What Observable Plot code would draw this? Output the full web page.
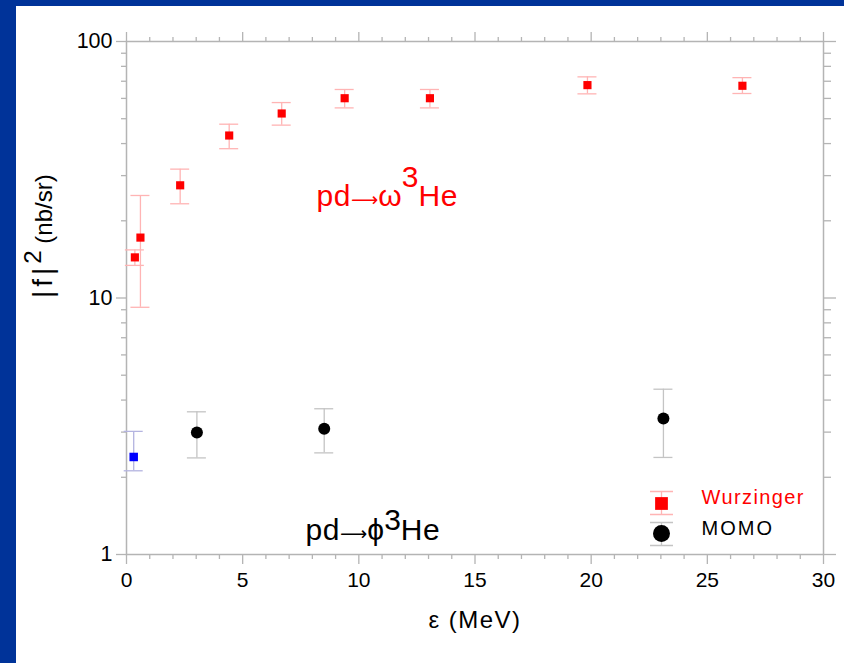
<!DOCTYPE html>
<html>
<head>
<meta charset="utf-8">
<script src="https://cdn.jsdelivr.net/npm/d3@7"></script>
<script src="https://cdn.jsdelivr.net/npm/@observablehq/plot@0.6"></script>
<style>
  html, body { margin: 0; padding: 0; width: 844px; height: 663px; overflow: hidden; background: #003399; }
  #panel { position: absolute; left: 16px; top: 6px; right: 0; bottom: 0; background: #ffffff; }
  #chart { position: absolute; left: 0; top: 0; }
</style>
</head>
<body>
<div id="panel"></div>
<div id="chart"></div>
<script>
// ---- data ----
const wurzX  = [0.36, 0.60, 2.31, 4.42, 6.68, 9.39, 13.06, 19.84, 26.51];
const wurzY  = [14.4, 17.2, 27.5, 43.0, 52.4, 60.1, 60.1, 67.6, 67.2];
const wurzLo = [13.4, 9.2, 23.3, 38.2, 47.2, 55.1, 55.1, 62.5, 62.7];
const wurzHi = [15.4, 25.1, 31.8, 47.6, 57.8, 65.0, 65.0, 72.8, 72.3];

const momoX  = [3.03, 8.51, 23.11];
const momoY  = [2.99, 3.09, 3.39];
const momoLo = [2.38, 2.49, 2.39];
const momoHi = [3.60, 3.70, 4.41];

const blueX  = [0.31];
const blueY  = [2.40];
const blueLo = [2.12];
const blueHi = [3.02];

const xMajor = [0, 5, 10, 15, 20, 25, 30];
const xMinor = d3.range(0, 31).filter(v => v % 5 !== 0);
const yMajor = [1, 10, 100];
const yMinor = [2,3,4,5,6,7,8,9,20,30,40,50,60,70,80,90];

const seriesNames = ["Wurzinger", "MOMO"];
const xLabel = "ε (MeV)";

// ---- tables ----
const toRows = (X, Y, Lo, Hi) => X.map((x, i) => ({x, y: Y[i], lo: Lo[i], hi: Hi[i]}));
const wurz = toRows(wurzX, wurzY, wurzLo, wurzHi);
const momo = toRows(momoX, momoY, momoLo, momoHi);
const blue = toRows(blueX, blueY, blueLo, blueHi);

const axisGrey = "#b4b4b4";
const font = "'Liberation Sans', Arial, Helvetica, sans-serif";

// I-beam symbol for legend error bars
const ibeam = (up, down, w) => ({
  draw(ctx) {
    ctx.moveTo(-w, -up); ctx.lineTo(w, -up);
    ctx.moveTo(0, -up); ctx.lineTo(0, down);
    ctx.moveTo(-w, down); ctx.lineTo(w, down);
  }
});

function errorMarks(rows, color) {
  return [
    Plot.ruleX(rows, {x: "x", y1: "lo", y2: "hi", stroke: color, strokeWidth: 1.3}),
    Plot.ruleY(rows, {y: "hi", x1: "x", x2: "x", insetLeft: -9.5, insetRight: -9.5, stroke: color, strokeWidth: 1.3}),
    Plot.ruleY(rows, {y: "lo", x1: "x", x2: "x", insetLeft: -9.5, insetRight: -9.5, stroke: color, strokeWidth: 1.3})
  ];
}

const svg = Plot.plot({
  width: 844,
  height: 663,
  marginLeft: 126,
  marginRight: 21,
  marginTop: 41,
  marginBottom: 109,
  style: {background: "transparent", fontFamily: font, color: "#000", overflow: "visible"},
  x: {domain: [0, 30]},
  y: {type: "log", domain: [1, 100]},
  marks: [
    Plot.frame({stroke: axisGrey, strokeWidth: 1.5}),
    // bottom axis
    Plot.axisX(xMajor, {anchor: "bottom", tickSize: 10, tickPadding: 8, fontSize: 21, stroke: axisGrey, strokeWidth: 1.3, fill: "#000", tickFormat: d => String(d), label: null}),
    Plot.axisX(xMinor, {anchor: "bottom", tickSize: 5, stroke: axisGrey, strokeWidth: 1.3, tickFormat: () => "", label: null}),
    // top axis
    Plot.axisX(xMajor, {anchor: "top", tickSize: 10, stroke: axisGrey, strokeWidth: 1.3, tickFormat: () => "", label: null}),
    Plot.axisX(xMinor, {anchor: "top", tickSize: 5, stroke: axisGrey, strokeWidth: 1.3, tickFormat: () => "", label: null}),
    // left axis
    Plot.axisY(yMajor, {anchor: "left", tickSize: 10, tickPadding: 4, fontSize: 21.5, stroke: axisGrey, strokeWidth: 1.3, fill: "#000", tickFormat: d => String(d), label: null}),
    Plot.axisY(yMinor, {anchor: "left", tickSize: 5, stroke: axisGrey, strokeWidth: 1.3, tickFormat: () => "", label: null}),
    // right axis
    Plot.axisY(yMajor, {anchor: "right", tickSize: 12, stroke: axisGrey, strokeWidth: 1.3, tickFormat: () => "", label: null}),
    Plot.axisY(yMinor, {anchor: "right", tickSize: 7, stroke: axisGrey, strokeWidth: 1.3, tickFormat: () => "", label: null}),

    // error bars
    ...errorMarks(wurz, "#ffb4b4"),
    ...errorMarks(momo, "#c4c4c4"),
    ...errorMarks(blue, "#b4b4e0"),

    // points
    Plot.dot(wurz, {x: "x", y: "y", symbol: "square", r: 4.6, fill: "#ff0000", stroke: "none"}),
    Plot.dot(momo, {x: "x", y: "y", symbol: "circle", r: 6, fill: "#000000", stroke: "none"}),
    Plot.dot(blue, {x: "x", y: "y", symbol: "square", r: 4.8, fill: "#0000ff", stroke: "none"}),

    // reaction annotations
    Plot.text(["pd→ω^3^He"], {frameAnchor: "top-left", dx: 190, dy: 143, text: d => d, fill: "#ff0000", fontSize: 30, textAnchor: "start"}),
    Plot.text(["pd→ϕ^3^He"], {frameAnchor: "top-left", dx: 179, dy: 477, text: d => d, fill: "#000000", fontSize: 30, textAnchor: "start"}),

    // legend
    Plot.dot([0], {frameAnchor: "bottom-right", dx: -162, dy: -51, symbol: ibeam(12, 11, 11.5), r: 1, fill: "none", stroke: "#ffb4b4", strokeWidth: 1.3}),
    Plot.dot([0], {frameAnchor: "bottom-right", dx: -162, dy: -51, symbol: "square", r: 7.2, fill: "#ff0000", stroke: "none"}),
    Plot.dot([0], {frameAnchor: "bottom-right", dx: -162, dy: -21, symbol: ibeam(11, 12, 11.5), r: 1, fill: "none", stroke: "#c4c4c4", strokeWidth: 1.3}),
    Plot.dot([0], {frameAnchor: "bottom-right", dx: -162, dy: -21, symbol: "circle", r: 8.5, fill: "#000", stroke: "none"}),
    Plot.text([seriesNames[0]], {frameAnchor: "bottom-right", dx: -122, dy: -51, text: d => d, fill: "#ff0000", fontSize: 20, textAnchor: "start"}),
    Plot.text([seriesNames[1]], {frameAnchor: "bottom-right", dx: -122, dy: -20, text: d => d, fill: "#000000", fontSize: 20, textAnchor: "start"}),

    // axis titles
    Plot.text([xLabel], {frameAnchor: "bottom", dy: 73, text: d => d, fill: "#000", fontSize: 24}),
    Plot.text(["|f|^2^ (nb/sr)"], {frameAnchor: "left", dx: -82, text: d => d, fill: "#000", fontSize: 24, rotate: -90})
  ]
});

// rich text (superscripts / mixed sizes / spacing)
const arrowFont = "'DejaVu Sans', sans-serif";
const richSpecs = {
  "pd→ω^3^He": [{t: "pd", spacing: 0.6}, {t: "⟶", family: arrowFont, size: 19}, {t: "ω"}, {t: "3", shift: 19}, {t: "He", spacing: 0.6}],
  "pd→ϕ^3^He": [{t: "pd", spacing: 0.6}, {t: "⟶", family: arrowFont, size: 19}, {t: "ϕ"}, {t: "3", shift: 10}, {t: "He", spacing: 0.6}],
  "|f|^2^ (nb/sr)": [{t: "|f|", size: 28, spacing: 4}, {t: "2", size: 24, shift: 11}, {t: " (nb/sr)", size: 24}],
  "Wurzinger": [{t: "Wurzinger", spacing: 1.4}],
  "MOMO": [{t: "MOMO", spacing: 2}],
  "ε (MeV)": [{t: "ε (MeV)", spacing: 1.5}]
};
d3.select(svg).selectAll("text").each(function() {
  const spec = richSpecs[this.textContent];
  if (!spec) return;
  const el = d3.select(this);
  el.text(null);
  let prev = 0;
  for (const seg of spec) {
    const s = seg.shift || 0;
    const ts = el.append("tspan").text(seg.t);
    if (prev - s !== 0) ts.attr("dy", prev - s);
    if (seg.size) ts.attr("font-size", seg.size);
    if (seg.family) ts.attr("font-family", seg.family);
    if (seg.spacing) ts.attr("letter-spacing", seg.spacing);
    prev = s;
  }
});

document.getElementById("chart").appendChild(svg);
</script>
</body>
</html>
